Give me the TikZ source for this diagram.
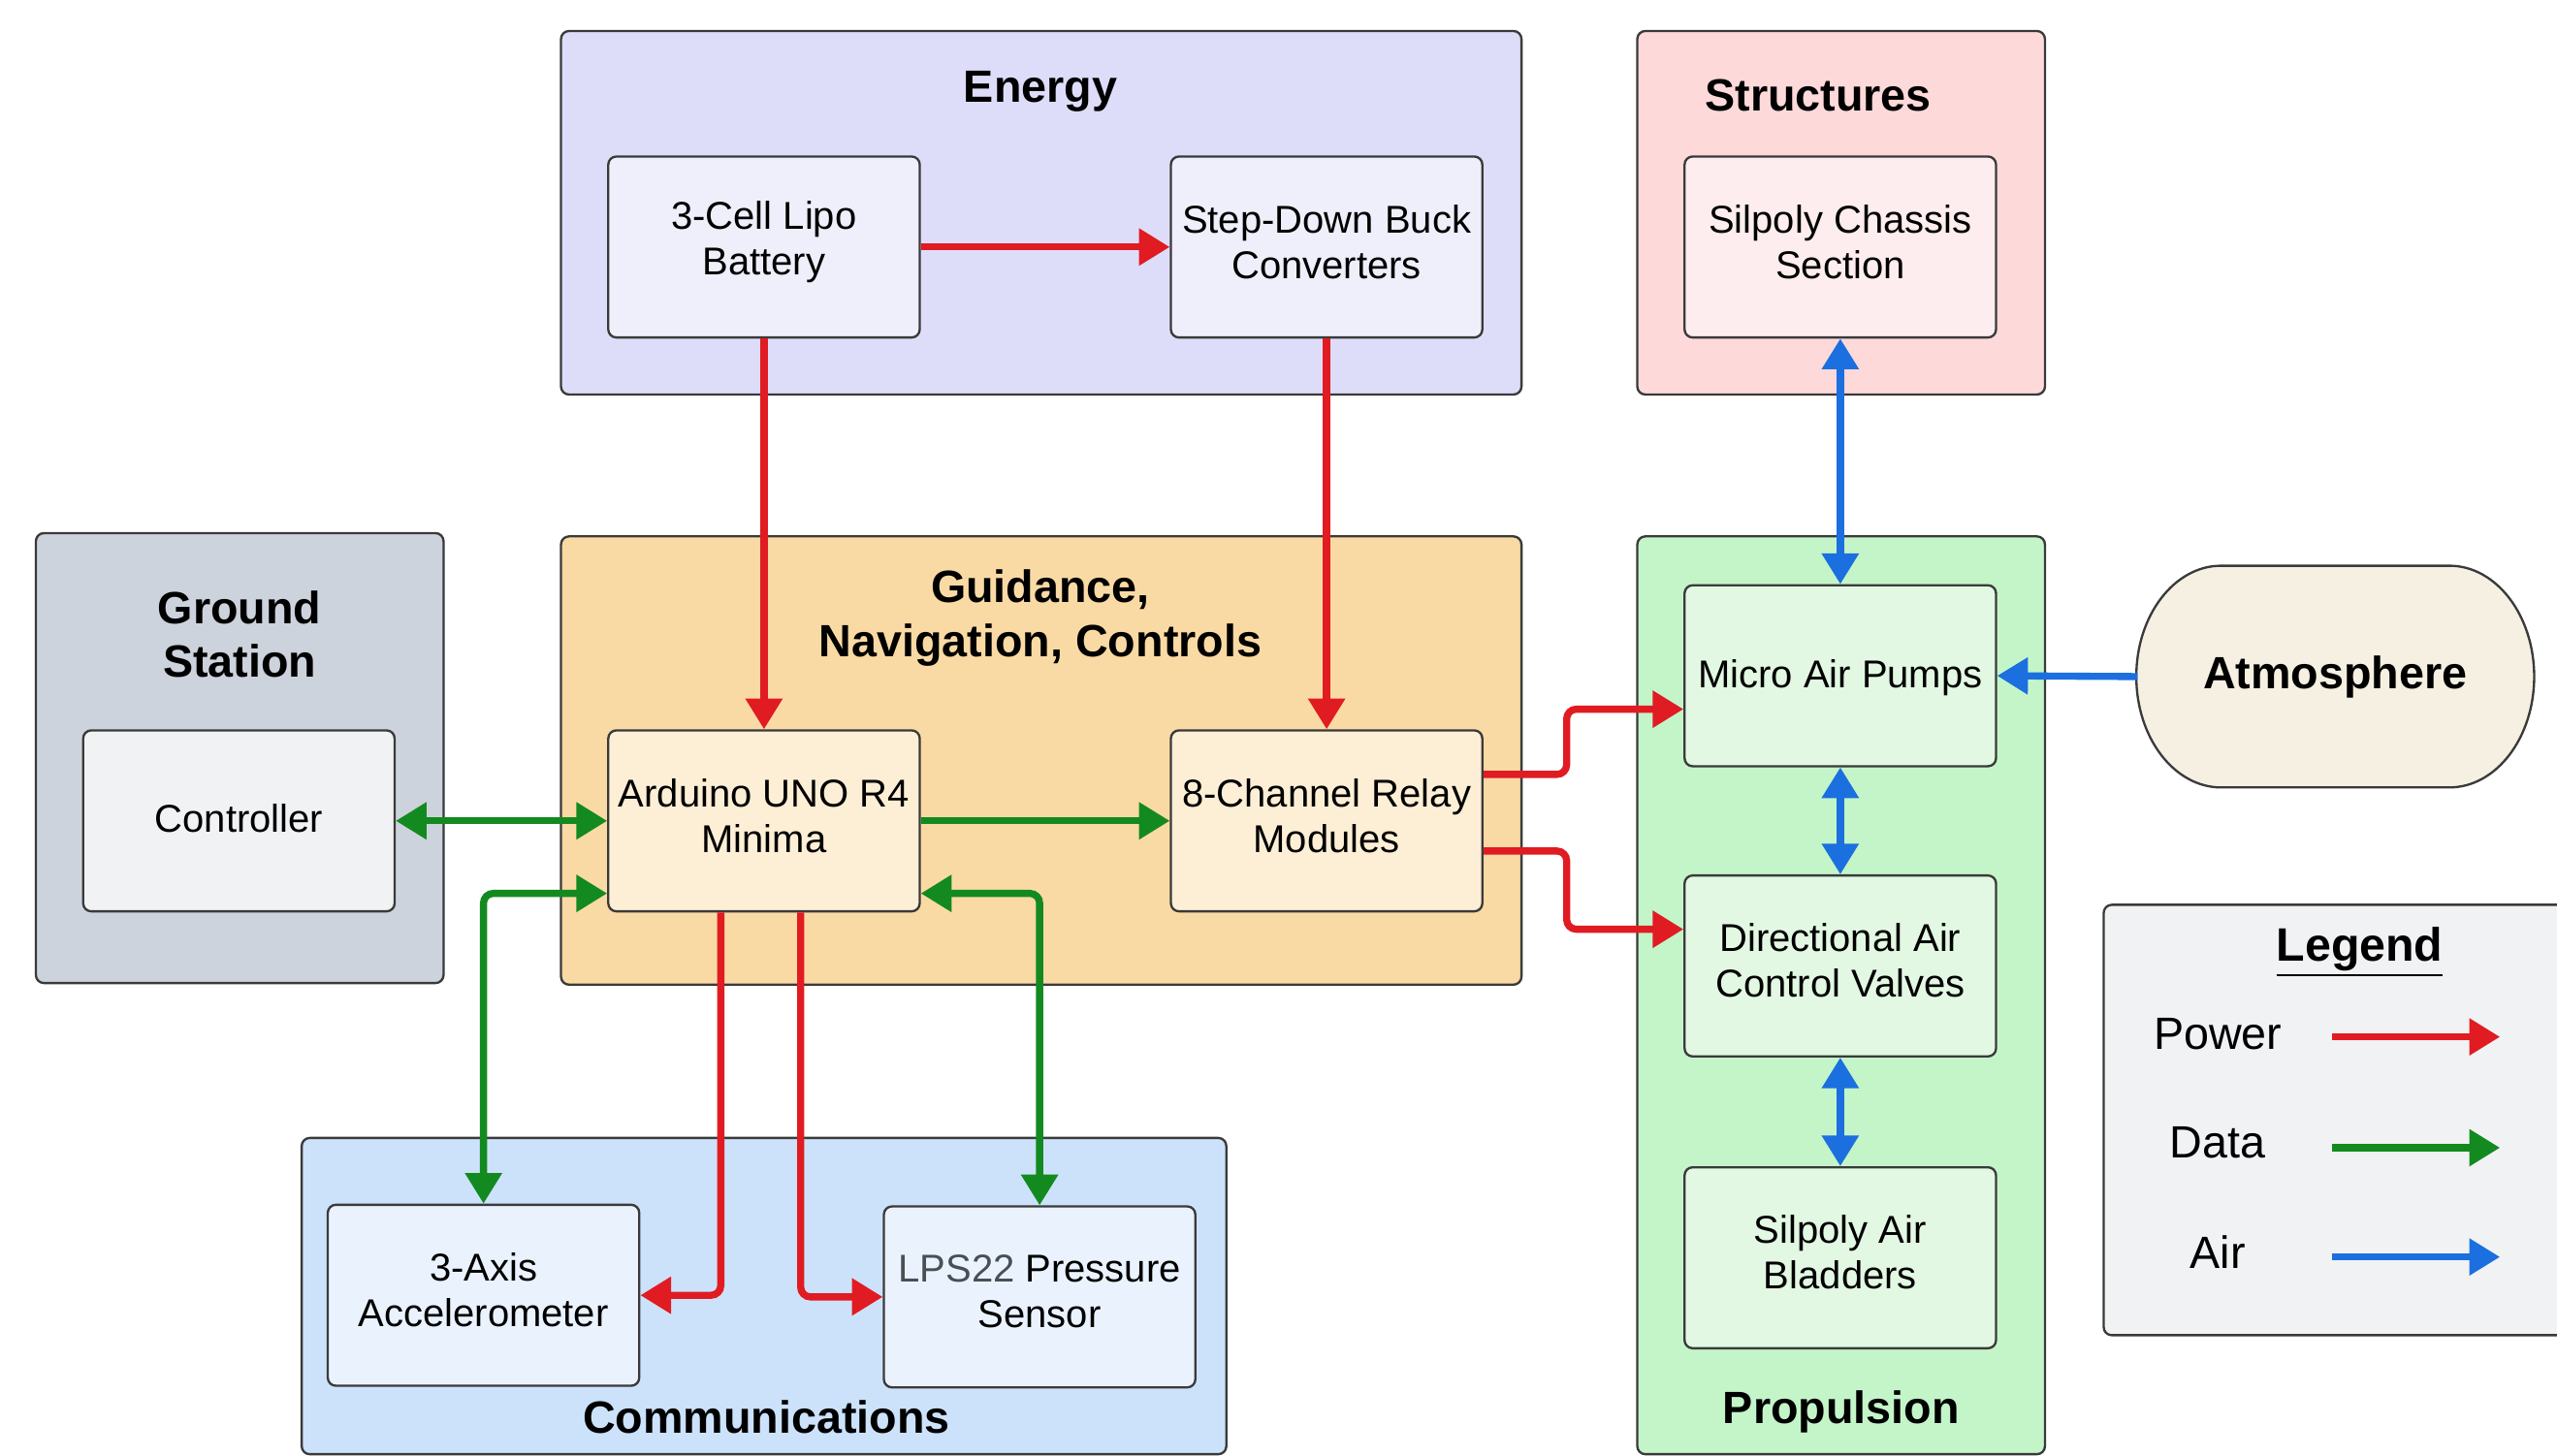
\documentclass[tikz,border=0pt]{standalone}
\usepackage{fontspec}
\setmainfont{Liberation Sans}
\usetikzlibrary{fit,calc,arrows.meta}
\definecolor{edge}{HTML}{3A3A3A}
\definecolor{enBg}{HTML}{DDDDF9}
\definecolor{enIn}{HTML}{EFEFFC}
\definecolor{stBg}{HTML}{FDD9DA}
\definecolor{stIn}{HTML}{FDEDEE}
\definecolor{gsBg}{HTML}{CDD3DC}
\definecolor{gsIn}{HTML}{F1F2F4}
\definecolor{gnBg}{HTML}{FADAA4}
\definecolor{gnIn}{HTML}{FDEFD5}
\definecolor{coBg}{HTML}{CCE2FA}
\definecolor{coIn}{HTML}{EAF3FD}
\definecolor{prBg}{HTML}{C3F5C9}
\definecolor{prIn}{HTML}{E2F8E3}
\definecolor{atBg}{HTML}{F5F0E1}
\definecolor{lgBg}{HTML}{F1F2F4}
\definecolor{pwr}{HTML}{E11B22}
\definecolor{dat}{HTML}{138A1F}
\definecolor{air}{HTML}{1B6FDF}
\begin{document}
\begin{tikzpicture}[x=0.5045pt,y=-0.5045pt,
  grp/.style={draw=edge, line width=0.7pt, rounded corners=2.5pt, inner sep=0pt},
  inbox/.style={draw=edge, line width=0.7pt, rounded corners=2.5pt, inner sep=0pt},
  intext/.style={align=center, font=\fontsize{12}{14.1}\selectfont, yshift=1.6pt},
  ttl/.style={font=\bfseries\fontsize{14}{16.6}\selectfont, align=center},
  pw/.style={draw=pwr, line width=2.2pt, rounded corners=3pt, -{Triangle[length=9.5pt,width=11pt]}},
  dt/.style={draw=dat, line width=2.2pt, rounded corners=3pt, -{Triangle[length=9.5pt,width=11pt]}},
  dtt/.style={draw=dat, line width=2.2pt, rounded corners=3pt, {Triangle[length=9.5pt,width=11pt]}-{Triangle[length=9.5pt,width=11pt]}},
  ar/.style={draw=air, line width=2.2pt, -{Triangle[length=9.5pt,width=11pt]}},
  arr/.style={draw=air, line width=2.2pt, {Triangle[length=9.5pt,width=11pt]}-{Triangle[length=9.5pt,width=11pt]}},
  lgl/.style={font=\fontsize{14}{16.6}\selectfont}
]
\useasboundingbox (0,0) rectangle (1568,893);

% group frames
\node[grp, fill=enBg, fit={(344,19) (933,242)}] (energy) {};
\node[grp, fill=stBg, fit={(1004,19) (1254,242)}] (struct) {};
\node[grp, fill=gsBg, fit={(22,327) (272,603)}] (ground) {};
\node[grp, fill=gnBg, fit={(344,329) (933,604)}] (gnc) {};
\node[grp, fill=prBg, fit={(1004,329) (1254,892)}] (prop) {};
\node[grp, fill=coBg, fit={(185,698) (752,892)}] (comm) {};
\node[grp, fill=lgBg, fit={(1290,555) (1620,819)}] (legend) {};

% group titles
\node[ttl] (tEnergy) at (638,56) {Energy};
\node[ttl] (tStruct) at (1115,58.5) {Structures};
\node[ttl] (tGround) at (147,389) {Ground\\Station};
\node[ttl] (tGnc) at (638,379) {Guidance,\\Navigation, Controls};
\node[ttl] (tComm) at (470,869) {Communications};
\node[ttl] (tProp) at (1129,866) {Propulsion};
\node[ttl, font=\bfseries\fontsize{14.5}{17}\selectfont] (tLegend) at (1447,584) {\underline{Legend}};

% atmosphere
\path[draw=edge, line width=0.7pt, fill=atBg] (1362,347) -- (1502,347)
  .. controls (1530.7,347) and (1554,377.5) .. (1554,415)
  .. controls (1554,452.5) and (1530.7,483) .. (1502,483) -- (1362,483)
  .. controls (1333.3,483) and (1310,452.5) .. (1310,415)
  .. controls (1310,377.5) and (1333.3,347) .. (1362,347) -- cycle;
\node[ttl, minimum width=122pt, minimum height=68pt, inner sep=0pt] (atm) at (1432,415) {Atmosphere};

% inner boxes
\node[inbox, fill=enIn, fit={(373,96) (564,207)}, label={[intext]center:3-Cell Lipo\\Battery}] (bat) {};
\node[inbox, fill=enIn, fit={(718,96) (909,207)}, label={[intext]center:Step-Down Buck\\Converters}] (buck) {};
\node[inbox, fill=stIn, fit={(1033,96) (1224,207)}, label={[intext]center:Silpoly Chassis\\Section}] (chassis) {};
\node[inbox, fill=gsIn, fit={(51,448) (242,559)}, label={[intext, yshift=-0.8pt]center:Controller}] (ctrl) {};
\node[inbox, fill=gnIn, fit={(373,448) (564,559)}, label={[intext]center:Arduino UNO R4\\Minima}] (ard) {};
\node[inbox, fill=gnIn, fit={(718,448) (909,559)}, label={[intext]center:8-Channel Relay\\Modules}] (relay) {};
\node[inbox, fill=prIn, fit={(1033,359) (1224,470)}, label={[intext, yshift=-2.2pt]center:Micro Air Pumps}] (pumps) {};
\node[inbox, fill=prIn, fit={(1033,537) (1224,648)}, label={[intext]center:Directional Air\\Control Valves}] (valves) {};
\node[inbox, fill=prIn, fit={(1033,716) (1224,827)}, label={[intext]center:Silpoly Air\\Bladders}] (bladders) {};
\node[inbox, fill=coIn, fit={(201,739) (392,850)}, label={[intext]center:3-Axis\\Accelerometer}] (acc) {};
\node[inbox, fill=coIn, fit={(542,740) (733,851)}, label={[intext]center:{\color[HTML]{4A4E55}LPS22} Pressure\\Sensor}] (lps) {};

% power
\draw[pw] (bat.east) -- (buck.west);
\draw[pw] (bat.south) -- (ard.north);
\draw[pw] (buck.south) -- (relay.north);
\draw[pw] ($(ard.south)+(-26.5,0)$) |- (acc.east);
\draw[pw] ($(ard.south)+(22.5,0)$) |- (lps.west);
\draw[pw] ($(relay.east)+(0,-28.5)$) -- ++(51,0) |- ($(pumps.west)+(0,20.5)$);
\draw[pw] ($(relay.east)+(0,18.5)$) -- ++(51,0) |- ($(valves.west)+(0,-22.5)$);

% data
\draw[dtt] (ctrl.east) -- (ard.west);
\draw[dt] (ard.east) -- (relay.west);
\draw[dtt] (acc.north) |- ($(ard.west)+(0,44.5)$);
\draw[dtt] ($(ard.east)+(0,44.5)$) -| (lps.north);

% air
\draw[arr] (chassis.south) -- (pumps.north);
\draw[ar] (atm.west) -- (pumps.east);
\draw[arr] (pumps.south) -- (valves.north);
\draw[arr] (valves.south) -- (bladders.north);

% legend
\node[lgl] (lPower) at (1360,634) {Power};
\node[lgl] (lData) at (1360,701) {Data};
\node[lgl] (lAir) at (1360,768) {Air};
\coordinate (pA) at (1430,636); \coordinate (pB) at (1533,636);
\coordinate (dA) at (1430,704); \coordinate (dB) at (1533,704);
\coordinate (aA) at (1430,771); \coordinate (aB) at (1533,771);
\draw[pw] (pA) -- (pB);
\draw[dt] (dA) -- (dB);
\draw[ar] (aA) -- (aB);
\end{tikzpicture}
\end{document}
